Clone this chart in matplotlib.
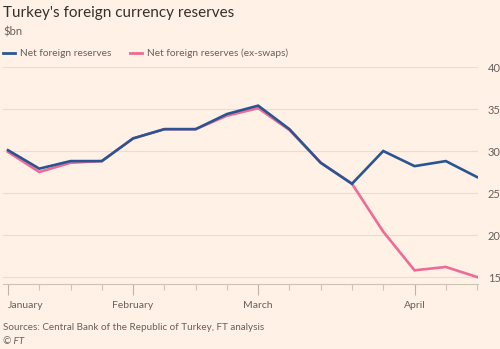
import matplotlib.pyplot as plt
from matplotlib.lines import Line2D

# weekly observations, Jan to Apr
weeks = list(range(16))
net_reserves = [30.1, 27.9, 28.8, 28.8, 31.5, 32.6, 32.6, 34.4, 35.4, 32.6,
                28.6, 26.1, 30.0, 28.2, 28.8, 26.9]
net_ex_swaps = [29.9, 27.5, 28.6, 28.8, 31.5, 32.6, 32.6, 34.2, 35.1, 32.5,
                28.6, 26.1, 20.4, 15.8, 16.2, 15.0]
month_pos = [0, 4, 8, 13]
month_labels = ["January", "February", "March", "April"]
y_ticks = [15, 20, 25, 30, 35, 40]

BG = "#fff1e5"
BLUE = "#2b5592"
PINK = "#ec6c96"
GREY = "#66605c"

plt.rcParams['font.family'] = ['Lato', 'DejaVu Sans']

fig = plt.figure(figsize=(5, 3.49), dpi=100, facecolor=BG)
ax = fig.add_axes([3 / 500, 1 - 284 / 349, 475 / 500, 217 / 349], facecolor=BG)

ax.plot(weeks, net_ex_swaps, color=PINK, lw=1.9, solid_joinstyle='miter', zorder=3)
ax.plot(weeks, net_reserves, color=BLUE, lw=1.9, solid_joinstyle='miter', zorder=4)

ax.set_xlim(-0.16, 15.03)
ax.set_ylim(14.17, 40)

ax.yaxis.tick_right()
ax.set_yticks(y_ticks)
ax.set_yticklabels([str(v) for v in y_ticks])
ax.tick_params(axis='y', length=0, pad=7, labelsize=8, labelcolor=GREY)
ax.grid(axis='y', color="#e9dcd1", lw=0.8)

ax.set_xticks(weeks, minor=True)
ax.set_xticks(month_pos)
ax.set_xticklabels(month_labels)
ax.tick_params(axis='x', which='minor', length=4, color="#cfc3b8", width=0.8)
ax.tick_params(axis='x', which='major', length=8, color="#bfb3a8", width=0.8,
               labelsize=7.5, labelcolor=GREY, pad=4)
ax.get_xticklabels()[0].set_horizontalalignment('left')

for s in ['top', 'right', 'left']:
    ax.spines[s].set_visible(False)
ax.spines['bottom'].set_color("#cfc3b8")
ax.spines['bottom'].set_linewidth(0.8)

fig.text(3 / 500, 1 - 13 / 349, "Turkey's foreign currency reserves", fontsize=11,
         color="#33302e", va='center')
fig.text(3 / 500, 1 - 32 / 349, "$bn", fontsize=8, color=GREY, va='center')

# legend drawn by hand
fig.add_artist(Line2D([3 / 500, 15 / 500], [1 - 53 / 349] * 2, color=BLUE, lw=2,
                      transform=fig.transFigure))
fig.text(20 / 500, 1 - 53 / 349, "Net foreign reserves", fontsize=7.3, color=GREY, va='center')
fig.add_artist(Line2D([130 / 500, 142 / 500], [1 - 53 / 349] * 2, color=PINK, lw=2,
                      transform=fig.transFigure))
fig.text(147 / 500, 1 - 53 / 349, "Net foreign reserves (ex-swaps)", fontsize=7.3,
         color=GREY, va='center')

fig.text(3 / 500, 1 - 328 / 349, "Sources: Central Bank of the Republic of Turkey, FT analysis",
         fontsize=7.1, color=GREY, va='center')
fig.text(3 / 500, 1 - 341 / 349, "© FT", fontsize=7.1, color=GREY, va='center', style='italic')

fig.savefig("out.png", dpi=100, facecolor=BG)
